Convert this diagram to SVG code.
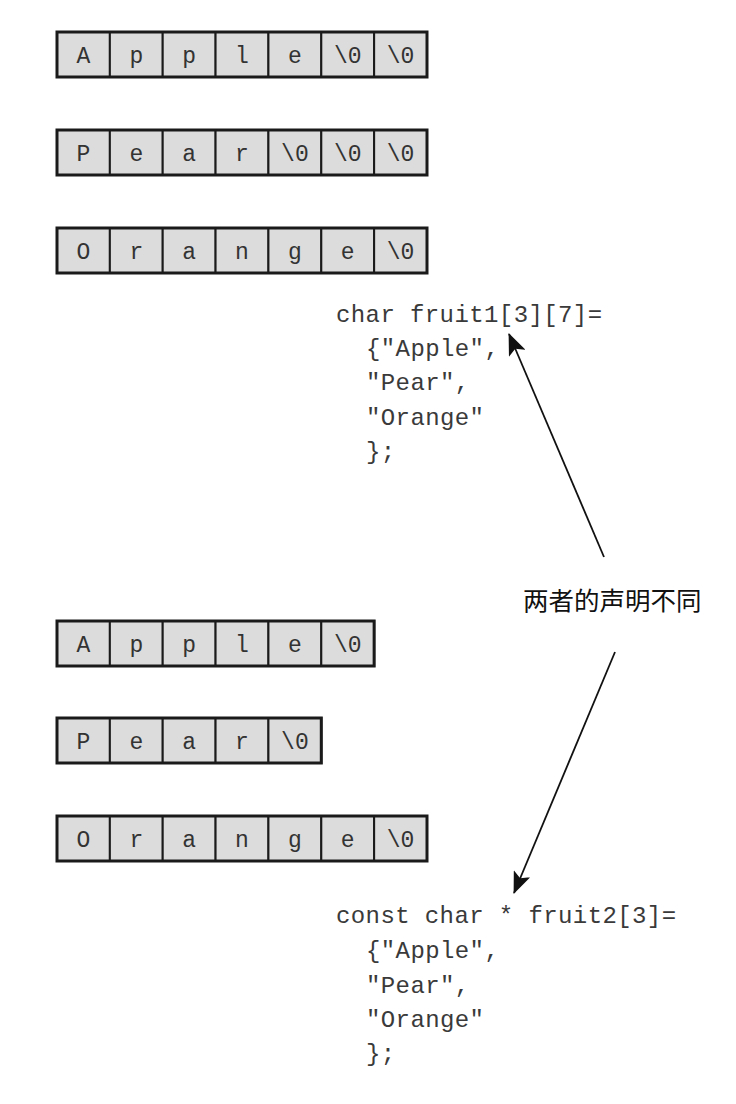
<svg xmlns="http://www.w3.org/2000/svg" width="736" height="1104" viewBox="0 0 736 1104">
<style>
.cell{fill:#dcdcdc;stroke:#1a1a1a;stroke-width:2}
.outer{fill:none;stroke:#1a1a1a;stroke-width:3}
.ch{font-family:"Liberation Mono","DejaVu Sans Mono",monospace;font-size:23px;fill:#333;text-anchor:middle}
.code{font-family:"Liberation Mono","DejaVu Sans Mono",monospace;font-size:24px;fill:#3a3a3a;letter-spacing:0.4px}
.cjk{font-family:"Noto Sans CJK SC",sans-serif;font-size:25.5px;font-weight:400;fill:#111}
.arr{stroke:#111;stroke-width:1.8;fill:none;marker-end:url(#ah)}
</style>
<defs>
<marker id="ah" viewBox="0 0 22 18" refX="21" refY="9" markerWidth="22" markerHeight="18" markerUnits="userSpaceOnUse" orient="auto">
<path d="M0,0 L22,9 L0,18 L5,9 Z" fill="#111"/>
</marker>
</defs>
<rect width="736" height="1104" fill="#fff"/>

<g id="row1" transform="translate(57,32)">
<rect class="cell" x="0" y="0" width="52.86" height="45"/><rect class="cell" x="52.86" y="0" width="52.86" height="45"/><rect class="cell" x="105.71" y="0" width="52.86" height="45"/><rect class="cell" x="158.57" y="0" width="52.86" height="45"/><rect class="cell" x="211.43" y="0" width="52.86" height="45"/><rect class="cell" x="264.29" y="0" width="52.86" height="45"/><rect class="cell" x="317.14" y="0" width="52.86" height="45"/>
<rect class="outer" x="0" y="0" width="370" height="45"/>
<text class="ch" y="31"><tspan x="26.4">A</tspan><tspan x="79.3">p</tspan><tspan x="132.1">p</tspan><tspan x="185">l</tspan><tspan x="237.9">e</tspan><tspan x="290.7">\0</tspan><tspan x="343.6">\0</tspan></text>
</g>

<g id="row2" transform="translate(57,130)">
<rect class="cell" x="0" y="0" width="52.86" height="45"/><rect class="cell" x="52.86" y="0" width="52.86" height="45"/><rect class="cell" x="105.71" y="0" width="52.86" height="45"/><rect class="cell" x="158.57" y="0" width="52.86" height="45"/><rect class="cell" x="211.43" y="0" width="52.86" height="45"/><rect class="cell" x="264.29" y="0" width="52.86" height="45"/><rect class="cell" x="317.14" y="0" width="52.86" height="45"/>
<rect class="outer" x="0" y="0" width="370" height="45"/>
<text class="ch" y="31"><tspan x="26.4">P</tspan><tspan x="79.3">e</tspan><tspan x="132.1">a</tspan><tspan x="185">r</tspan><tspan x="237.9">\0</tspan><tspan x="290.7">\0</tspan><tspan x="343.6">\0</tspan></text>
</g>

<g id="row3" transform="translate(57,228)">
<rect class="cell" x="0" y="0" width="52.86" height="45"/><rect class="cell" x="52.86" y="0" width="52.86" height="45"/><rect class="cell" x="105.71" y="0" width="52.86" height="45"/><rect class="cell" x="158.57" y="0" width="52.86" height="45"/><rect class="cell" x="211.43" y="0" width="52.86" height="45"/><rect class="cell" x="264.29" y="0" width="52.86" height="45"/><rect class="cell" x="317.14" y="0" width="52.86" height="45"/>
<rect class="outer" x="0" y="0" width="370" height="45"/>
<text class="ch" y="31"><tspan x="26.4">O</tspan><tspan x="79.3">r</tspan><tspan x="132.1">a</tspan><tspan x="185">n</tspan><tspan x="237.9">g</tspan><tspan x="290.7">e</tspan><tspan x="343.6">\0</tspan></text>
</g>

<g id="code1">
<text class="code" x="336" y="322">char fruit1[3][7]=</text>
<text class="code" x="366" y="356">{"Apple",</text>
<text class="code" x="366" y="390">"Pear",</text>
<text class="code" x="366" y="425">"Orange"</text>
<text class="code" x="366" y="459">};</text>
</g>

<g id="label">
<text class="cjk" x="523" y="610">两者的声明不同</text>
</g>

<g id="row4" transform="translate(57,621)">
<rect class="cell" x="0" y="0" width="52.86" height="45"/><rect class="cell" x="52.86" y="0" width="52.86" height="45"/><rect class="cell" x="105.71" y="0" width="52.86" height="45"/><rect class="cell" x="158.57" y="0" width="52.86" height="45"/><rect class="cell" x="211.43" y="0" width="52.86" height="45"/><rect class="cell" x="264.29" y="0" width="52.86" height="45"/>
<rect class="outer" x="0" y="0" width="317.14" height="45"/>
<text class="ch" y="31"><tspan x="26.4">A</tspan><tspan x="79.3">p</tspan><tspan x="132.1">p</tspan><tspan x="185">l</tspan><tspan x="237.9">e</tspan><tspan x="290.7">\0</tspan></text>
</g>

<g id="row5" transform="translate(57,718)">
<rect class="cell" x="0" y="0" width="52.86" height="45"/><rect class="cell" x="52.86" y="0" width="52.86" height="45"/><rect class="cell" x="105.71" y="0" width="52.86" height="45"/><rect class="cell" x="158.57" y="0" width="52.86" height="45"/><rect class="cell" x="211.43" y="0" width="52.86" height="45"/>
<rect class="outer" x="0" y="0" width="264.29" height="45"/>
<text class="ch" y="31"><tspan x="26.4">P</tspan><tspan x="79.3">e</tspan><tspan x="132.1">a</tspan><tspan x="185">r</tspan><tspan x="237.9">\0</tspan></text>
</g>

<g id="row6" transform="translate(57,816)">
<rect class="cell" x="0" y="0" width="52.86" height="45"/><rect class="cell" x="52.86" y="0" width="52.86" height="45"/><rect class="cell" x="105.71" y="0" width="52.86" height="45"/><rect class="cell" x="158.57" y="0" width="52.86" height="45"/><rect class="cell" x="211.43" y="0" width="52.86" height="45"/><rect class="cell" x="264.29" y="0" width="52.86" height="45"/><rect class="cell" x="317.14" y="0" width="52.86" height="45"/>
<rect class="outer" x="0" y="0" width="370" height="45"/>
<text class="ch" y="31"><tspan x="26.4">O</tspan><tspan x="79.3">r</tspan><tspan x="132.1">a</tspan><tspan x="185">n</tspan><tspan x="237.9">g</tspan><tspan x="290.7">e</tspan><tspan x="343.6">\0</tspan></text>
</g>

<g id="code2">
<text class="code" x="336" y="923">const char * fruit2[3]=</text>
<text class="code" x="366" y="958">{"Apple",</text>
<text class="code" x="366" y="993">"Pear",</text>
<text class="code" x="366" y="1027">"Orange"</text>
<text class="code" x="366" y="1061">};</text>
</g>

<g id="connectors">
<line class="arr" x1="604" y1="557" x2="509" y2="334"/>
<line class="arr" x1="615" y1="652" x2="514" y2="893"/>
</g>
</svg>
